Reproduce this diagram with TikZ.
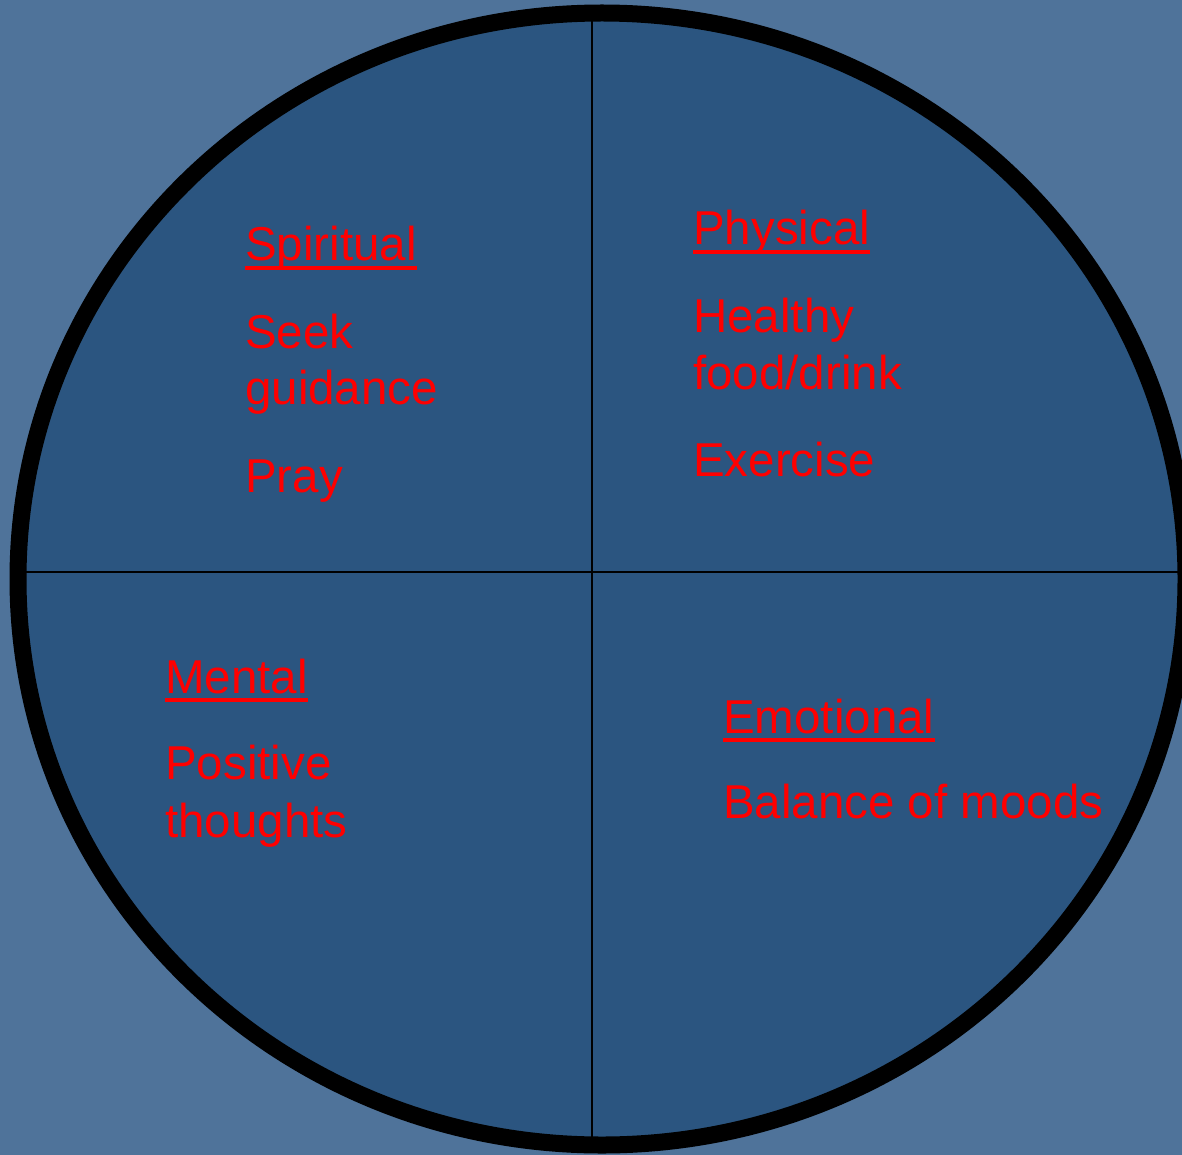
\documentclass[tikz,border=0pt]{standalone}
\usepackage{fontspec}
\setmainfont{Liberation Sans}
\definecolor{SlideBlue}{HTML}{4F739A}
\definecolor{WheelBlue}{HTML}{2B5580}
\definecolor{Ink}{HTML}{000000}
\definecolor{LabelRed}{HTML}{FF0000}

\begin{document}
\begin{tikzpicture}[x=1pt,y=-1pt,
    qtext/.style={anchor=base west,inner sep=0pt,text=LabelRed,
                  font=\fontsize{47.5}{56}\selectfont},
    uline/.style={LabelRed,line width=4pt},
    divider/.style={Ink,line width=2.3pt}]
    \useasboundingbox (0,0) rectangle (1182,1155);
    \fill[SlideBlue] (0,0) rectangle (1182,1155);

    \begin{scope}
      \clip (0,0) rectangle (1182,1155);
      \fill[WheelBlue] (602,579) ellipse [x radius=584,y radius=566];
      \draw[divider] (592,8) -- (592,1150);
      \draw[divider] (12,572) -- (1190,572);
      \draw[Ink,line width=17pt] (602,579) ellipse [x radius=584,y radius=566];
    \end{scope}

    % headings, underlined
    \foreach \nm/\x/\y/\txt in {spirit/245/261/Spiritual,phys/693/245/Physical,
                                 ment/165/693/Mental,emot/723/733/Emotional} {
      \node[qtext] (\nm) at (\x,\y) {\txt};
      \draw[uline] ([yshift=-7pt]\nm.base west) -- ([yshift=-7pt]\nm.base east);
    }

    % quadrant items
    \foreach \nm/\x/\y/\txt in {seek/245/348/Seek,guide/245/404/guidance,pray/245/492/Pray,
                                 health/693/332/Healthy,food/693/389/{food/drink},exer/693/476/Exercise,
                                 posit/165/779/Positive,thought/165/837/thoughts,
                                 mood/723/818/Balance of moods} {
      \node[qtext] (\nm) at (\x,\y) {\txt};
    }
\end{tikzpicture}
\end{document}
